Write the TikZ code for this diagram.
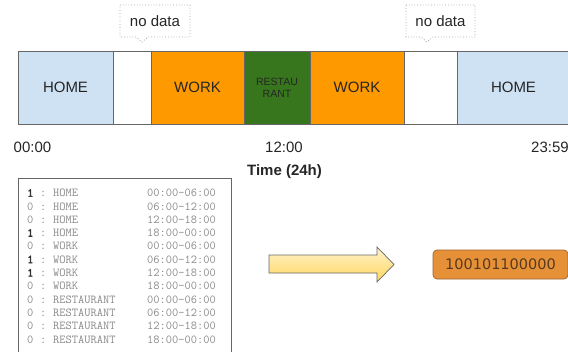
\documentclass[tikz,border=0pt]{standalone}
\usepackage{fontspec}
\setmainfont{Liberation Sans}
\newfontfamily\digitfont{DejaVu Sans}
\newfontfamily\bitfont{Latin Modern Mono}[FakeBold=2.5]
\definecolor{homec}{HTML}{CFE2F3}
\definecolor{workc}{HTML}{FF9900}
\definecolor{restc}{HTML}{38761D}
\definecolor{edgec}{HTML}{666666}
\definecolor{rowc}{HTML}{8A8A8A}
\definecolor{bitc}{HTML}{333333}
\definecolor{codec}{HTML}{E69138}
\definecolor{codeedge}{HTML}{9C6430}
\definecolor{codetext}{HTML}{5A3A1C}
\definecolor{arrowtop}{HTML}{FFF2CC}
\definecolor{arrowbot}{HTML}{FFD75E}
\tikzset{
  seg/.style={draw=edgec, line width=0.9pt, anchor=north west, inner sep=0pt,
    outer sep=0pt, minimum height=73pt, text=black!85, font=\fontsize{15}{15}\selectfont},
  callout/.style={draw=gray!70, dotted, line width=0.8pt},
  calltext/.style={font=\fontsize{15}{15}\selectfont, text=black!85},
  ticktext/.style={font=\fontsize{15}{15}\selectfont, text=black!85},
  rowtext/.style={anchor=base west, inner sep=0pt, font=\ttfamily\fontsize{12.1}{12.1}\selectfont, text=rowc},
}
\begin{document}
\begin{tikzpicture}[x=1pt,y=-1pt]
\clip (0,0) rectangle (568,351);
\fill[white] (0,0) rectangle (568,351);

% day timeline
\node[seg, fill=homec, minimum width=95pt] (home1) at (18,51) {HOME};
\node[seg, fill=white, minimum width=38pt] (gap1) at (113,51) {};
\node[seg, fill=workc, minimum width=93pt] (work1) at (151,51) {WORK};
\node[seg, fill=restc, minimum width=66pt, align=center,
      font=\fontsize{10.5}{12}\selectfont] (rest) at (244,51) {RESTAU\\RANT};
\node[seg, fill=workc, minimum width=94pt] (work2) at (310,51) {WORK};
\node[seg, fill=white, minimum width=53pt] (gap2) at (404,51) {};
\node[seg, fill=homec, minimum width=113pt] (home2) at (457,51) {HOME};

% "no data" callouts
\draw[callout] (120,5) -- (190,5) -- (190,37) -- (148,37) -- (142,42) -- (136,37) -- (120,37) -- cycle;
\node[calltext] (nd1) at (155,21.5) {no data};
\draw[callout] (406,5) -- (475,5) -- (475,37) -- (433,37) -- (427,42) -- (421,37) -- (406,37) -- cycle;
\node[calltext] (nd2) at (440.5,21.5) {no data};

% time axis labels
\node[ticktext] (t0) at (32.5,147) {00:00};
\node[ticktext] (t12) at (284,147) {12:00};
\node[ticktext, anchor=west, inner sep=0pt] (t24) at (531,147) {23:59};
\node[ticktext, font=\bfseries\fontsize{15}{15}\selectfont] (axis) at (284.5,172) {Time (24h)};

% one-hot listing
\draw[edgec, line width=0.8pt] (18,178) rectangle (231,353);
\foreach \b/\place/\slot [count=\i from 0] in {
  1/HOME/00:00-06:00, 0/HOME/06:00-12:00, 0/HOME/12:00-18:00, 1/HOME/18:00-00:00,
  0/WORK/00:00-06:00, 1/WORK/06:00-12:00, 1/WORK/12:00-18:00, 0/WORK/18:00-00:00,
  0/RESTAURANT/00:00-06:00, 0/RESTAURANT/06:00-12:00, 0/RESTAURANT/12:00-18:00,
  0/RESTAURANT/18:00-00:00}{
  \pgfmathsetmacro{\yb}{196.7+13.3*\i}
  \ifnum\b=1
    \node[rowtext, text=bitc, font=\bitfont\fontsize{12.1}{12.1}\selectfont] (bit\i) at (27,\yb) {1};
  \else
    \node[rowtext] (bit\i) at (27,\yb) {0};
  \fi
  \node[rowtext] (colon\i) at (40,\yb) {:};
  \node[rowtext] (place\i) at (53,\yb) {\place};
  \node[rowtext] (slot\i) at (147,\yb) {\slot};
}

% encoding arrow
\draw[draw=gray!80!black, line width=0.7pt, top color=arrowtop, bottom color=arrowbot]
  (269,255) -- (377,255) -- (377,247) -- (394,264.5) -- (377,282) -- (377,273) -- (269,273) -- cycle;

% resulting bit vector
\node[draw=codeedge, fill=codec, rounded corners=4pt, line width=0.7pt,
      minimum width=135pt, minimum height=29pt, inner sep=0pt,
      text=codetext, font=\digitfont\fontsize{14.5}{14.5}\selectfont] (code) at (500.5,264.5) {100101100000};
\end{tikzpicture}
\end{document}
